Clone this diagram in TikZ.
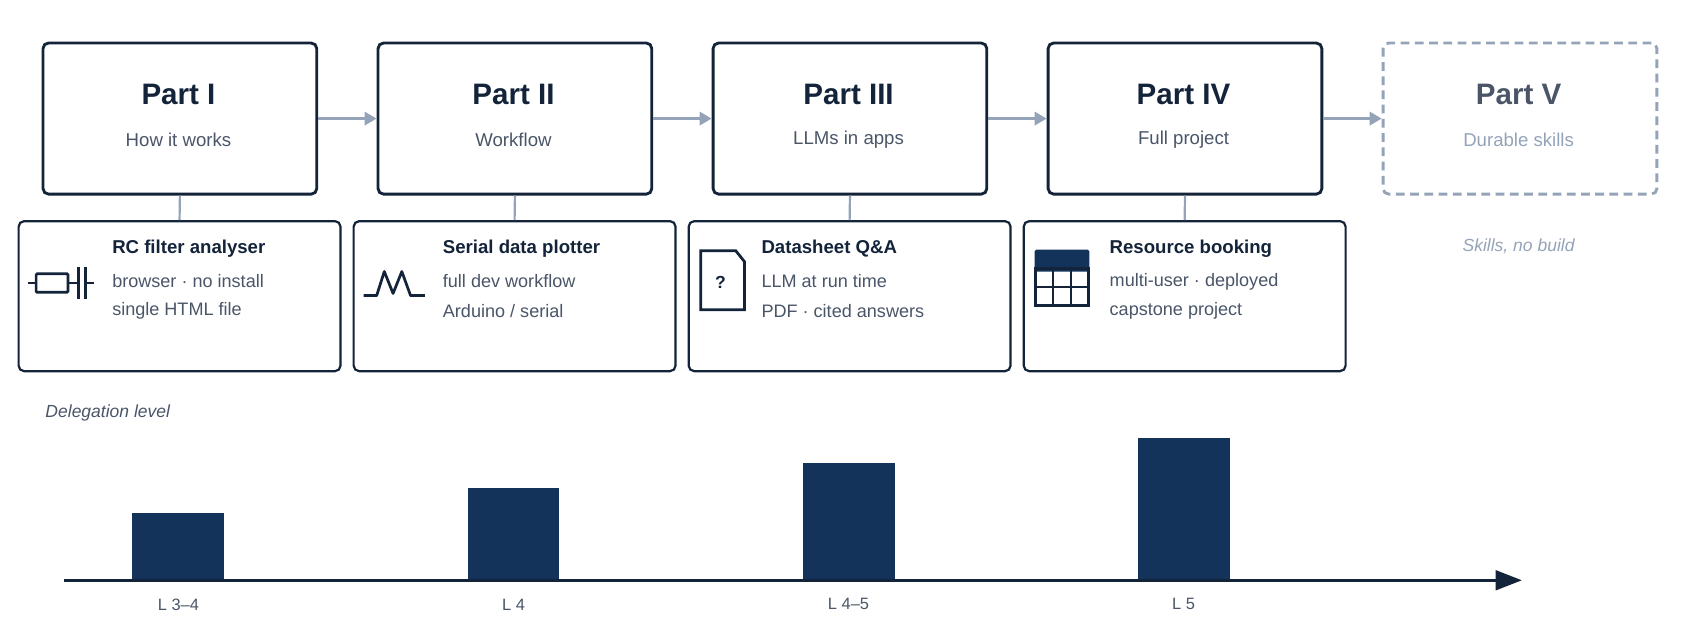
\documentclass[tikz,border=0pt]{standalone}
\usepackage{fontspec}
\setmainfont{Liberation Sans}
\usetikzlibrary{arrows.meta}
\definecolor{ink}{HTML}{13233A}
\definecolor{navy}{HTML}{14335A}
\definecolor{sub}{HTML}{4A5568}
\definecolor{soft}{HTML}{94A3B8}
\begin{document}
\begin{tikzpicture}[x=1pt,y=-1pt,
 part/.style={draw=ink,line width=2.6pt,rounded corners=5pt,minimum width=250pt,minimum height=138pt,anchor=north west},
 det/.style={draw=ink,line width=2pt,rounded corners=5pt,minimum width=294pt,minimum height=137pt,anchor=north west},
 ptitle/.style={font=\fontsize{27}{30}\selectfont\bfseries,text=ink},
 psub/.style={font=\fontsize{17}{20}\selectfont,text=sub},
 dtitle/.style={font=\fontsize{17}{20}\selectfont\bfseries,text=ink,anchor=west},
 dline/.style={font=\fontsize{16.5}{20}\selectfont,text=sub,anchor=west},
 flow/.style={draw=soft,line width=3pt,-{Triangle[length=11pt,width=12pt]}},
 link/.style={draw=soft,line width=2pt},
 bar/.style={fill=navy,draw=none},
 ico/.style={draw=ink,line width=2.5pt}]
\useasboundingbox (0,0) rectangle (1560,580);
\foreach \n/\x/\r/\s in {1/38/I/How it works,2/344/II/Workflow,3/650/III/LLMs in apps,4/956/IV/Full project}{
 \node[part] (p\n) at (\x,38) {};
 \node[ptitle] (pt\n) at (\x+125,86) {Part \r};
 \node[psub] (ps\n) at (\x+125,128) {\s};
 \node[det] (d\n) at (\x-22,201) {};
 \draw[link] (p\n.south) -- (d\n.north);
}
\node[part,draw=soft,dashed,dash pattern=on 8pt off 5pt] (p5) at (1262,38) {};
\node[ptitle,text=sub] (pt5) at (1387,86) {Part V};
\node[psub,text=soft] (ps5) at (1387,128) {Durable skills};
\node[font=\fontsize{16}{20}\selectfont\itshape,text=soft] (sk) at (1387,225) {Skills, no build};
\foreach \a/\b in {1/2,2/3,3/4,4/5} \draw[flow] (p\a.east) -- (p\b.west);
% detail texts
\node[dtitle] (t1) at (99,227) {RC filter analyser};
\node[dline] (a1) at (99,257) {browser · no install};
\node[dline] (b1) at (99,284) {single HTML file};
\node[dtitle] (t2) at (401,227) {Serial data plotter};
\node[dline] (a2) at (401,257) {full dev workflow};
\node[dline] (b2) at (401,284) {Arduino / serial};
\node[dtitle] (t3) at (692,227) {Datasheet Q\&A};
\node[dline] (a3) at (692,257) {LLM at run time};
\node[dline] (b3) at (692,284) {PDF · cited answers};
\node[dtitle] (t4) at (1010,227) {Resource booking};
\node[dline] (a4) at (1010,257) {multi-user · deployed};
\node[dline] (b4) at (1010,284) {capstone project};
% icons
\draw[ico,rounded corners=1pt] (33,250) rectangle (62,267);
\draw[ico] (26,258.5) -- (33,258.5) (62,258.5) -- (72,258.5) (78,258.5) -- (86,258.5);
\draw[ico] (72,244) -- (72,273) (78,244) -- (78,273);
\draw[ico,line join=round] (332,270) -- (344,270) -- (351,248) -- (359,268) -- (367,248) -- (375,270) -- (388,270);
\draw[ico] (640,229) -- (672,229) -- (680,239) -- (680,283) -- (640,283) -- cycle;
\node[font=\fontsize{16}{18}\selectfont\bfseries,text=ink] (q) at (658,258) {?};
\fill[navy,rounded corners=1.5pt] (945,228) rectangle (995,248);
\draw[ico] (946,245) rectangle (994,279);
\draw[ico,line width=2pt] (946,262) -- (994,262) (962,245) -- (962,279) (978,245) -- (978,279);
% delegation
\node[font=\fontsize{16}{20}\selectfont\itshape,text=sub,anchor=west] (dl) at (38,377) {Delegation level};
\coordinate (ax0) at (58,530);
\coordinate (ax1) at (1390,530);
\fill[bar] (121,469) rectangle (205,530);
\fill[bar] (427,446) rectangle (511,530);
\fill[bar] (733,423) rectangle (817,530);
\fill[bar] (1039,400) rectangle (1123,530);
\draw[draw=ink,line width=2.5pt,-{Triangle[length=24pt,width=18pt]}] (ax0) -- (ax1);
\foreach \x/\l in {163/L 3–4,469/L 4,775/L 4–5,1081/L 5}
 \node[font=\fontsize{15}{18}\selectfont,text=sub] at (\x,552) {\l};
\end{tikzpicture}
\end{document}
